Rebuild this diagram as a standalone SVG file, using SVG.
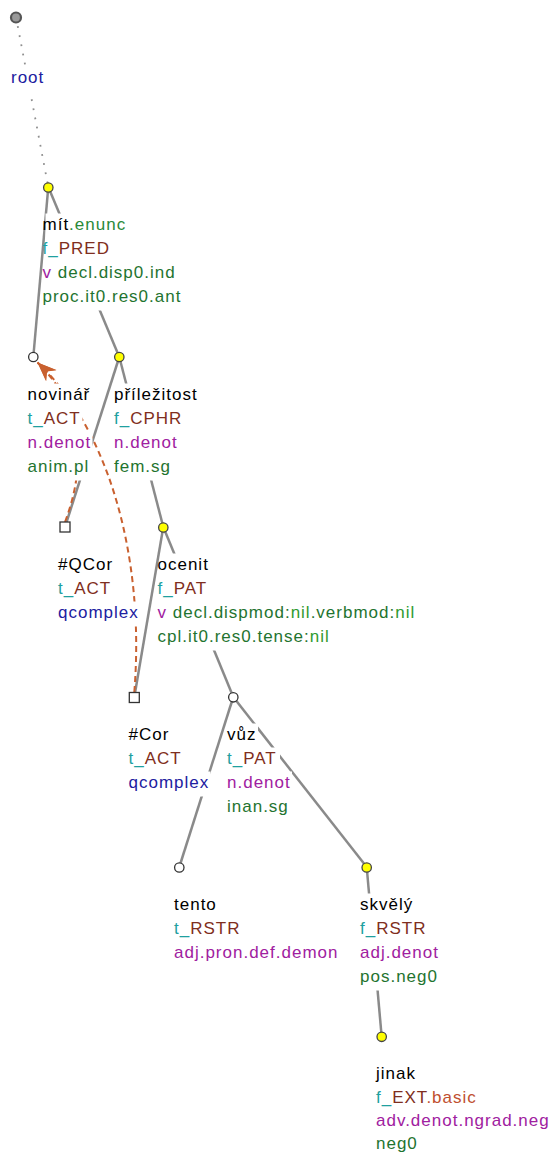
<svg xmlns="http://www.w3.org/2000/svg" width="555" height="1153" viewBox="0 0 555 1153">
<style>
text{font-family:"Liberation Sans",Arial,sans-serif;font-size:17px;letter-spacing:1px}
.bg{fill:#fff}
.e{stroke:#8a8a8a;stroke-width:2.5;fill:none}
.rt{stroke:#8f8f8f;stroke-width:1.8;fill:none;stroke-dasharray:1.8 7.5}
.cr{stroke:#c9602f;stroke-width:2;fill:none;stroke-dasharray:6 4;marker-end:url(#ah)}
.ny{fill:#ffff00;stroke:#444;stroke-width:1.3}
.nw{fill:#fff;stroke:#333;stroke-width:1.3}
.nr{fill:#999;stroke:#555;stroke-width:2.2}
.lem{fill:#000}
.sm{fill:#2a8a3a}
.tf{fill:#1fa0a0}
.fn{fill:#7f2e20}
.fs{fill:#c05030}
.pu{fill:#a020a0}
.nv{fill:#2020a0}
.gr{fill:#1f7430}
.nil{fill:#2f9a2f}
</style>
<defs>
<marker id="ah" markerUnits="userSpaceOnUse" viewBox="-20 -9 21 18" refX="0" refY="0" markerWidth="21" markerHeight="18" orient="auto">
<path d="M0,0 L-19,-7.5 L-13,0 L-19,7.5 Z" fill="#c9602f"/>
</marker>
</defs>
<g id="connectors">
<path class="rt" d="M16,17 L48.3,187"/>
<path class="e" d="M48.3,187 L33.3,357"/>
<path class="e" d="M48.3,187 L119.3,357"/>
<path class="e" d="M119.3,357 L65,527"/>
<path class="e" d="M119.3,357 L163.3,527"/>
<path class="e" d="M163.3,527 L134.3,697"/>
<path class="e" d="M163.3,527 L233.3,697"/>
<path class="e" d="M233.3,697 L179.3,867"/>
<path class="e" d="M233.3,697 L366.7,867"/>
<path class="e" d="M366.7,867 L381.7,1037"/>
<path class="cr" d="M134.3,692 C145,560 110,430 37.5,362.5"/>
<path class="cr" d="M65,522 C92,450 74,398 37.5,362.5"/>
</g>
<g id="n-root">
<rect class="bg" x="14" y="67" width="31" height="25"/>
<circle class="nr" cx="16" cy="17.5" r="5"/>
<text x="11" y="83.3"><tspan class="nv">root</tspan></text>
</g>
<g id="n-mit">
<rect class="bg" x="45.5" y="213.5" width="83" height="25"/>
<rect class="bg" x="45.5" y="237.5" width="66" height="25"/>
<rect class="bg" x="45.5" y="261.5" width="133" height="25"/>
<rect class="bg" x="45.5" y="285.5" width="137" height="25"/>
<circle class="ny" cx="48.3" cy="187.5" r="4.7"/>
<text x="42.5" y="229.5"><tspan class="lem">mít</tspan><tspan class="sm">.enunc</tspan></text>
<text x="42.5" y="253.5"><tspan class="tf">f_</tspan><tspan class="fn">PRED</tspan></text>
<text x="42.5" y="277.5"><tspan class="pu">v</tspan><tspan class="gr"> decl.disp0.ind</tspan></text>
<text x="42.5" y="301.5"><tspan class="gr">proc.it0.res0.ant</tspan></text>
</g>
<g id="n-novinar">
<rect class="bg" x="30.5" y="383.5" width="61" height="25"/>
<rect class="bg" x="30.5" y="407.5" width="52" height="25"/>
<rect class="bg" x="30.5" y="431.5" width="62" height="25"/>
<rect class="bg" x="30.5" y="455.5" width="60" height="25"/>
<circle class="nw" cx="33.3" cy="357" r="4.7"/>
<text x="27.5" y="399.5"><tspan class="lem">novinář</tspan></text>
<text x="27.5" y="423.5"><tspan class="tf">t_</tspan><tspan class="fn">ACT</tspan></text>
<text x="27.5" y="447.5"><tspan class="pu">n.denot</tspan></text>
<text x="27.5" y="471.5"><tspan class="gr">anim.pl</tspan></text>
</g>
<g id="n-prilezitost">
<rect class="bg" x="117" y="383.5" width="82" height="25"/>
<rect class="bg" x="117" y="407.5" width="67" height="25"/>
<rect class="bg" x="117" y="431.5" width="62" height="25"/>
<rect class="bg" x="117" y="455.5" width="55" height="25"/>
<circle class="ny" cx="119.3" cy="357" r="4.7"/>
<text x="114" y="399.5"><tspan class="lem">příležitost</tspan></text>
<text x="114" y="423.5"><tspan class="tf">f_</tspan><tspan class="fn">CPHR</tspan></text>
<text x="114" y="447.5"><tspan class="pu">n.denot</tspan></text>
<text x="114" y="471.5"><tspan class="gr">fem.sg</tspan></text>
</g>
<g id="n-qcor">
<rect class="bg" x="61" y="553.5" width="53" height="25"/>
<rect class="bg" x="61" y="577.5" width="52" height="25"/>
<rect class="bg" x="61" y="601.5" width="79" height="25"/>
<rect class="nw" x="60" y="522" width="10" height="10"/>
<text x="58" y="569.5"><tspan class="lem">#QCor</tspan></text>
<text x="58" y="593.5"><tspan class="tf">t_</tspan><tspan class="fn">ACT</tspan></text>
<text x="58" y="617.5"><tspan class="nv">qcomplex</tspan></text>
</g>
<g id="n-ocenit">
<rect class="bg" x="160.5" y="553.5" width="49" height="25"/>
<rect class="bg" x="160.5" y="577.5" width="50" height="25"/>
<rect class="bg" x="160.5" y="601.5" width="257" height="25"/>
<rect class="bg" x="160.5" y="625.5" width="175" height="25"/>
<circle class="ny" cx="163.3" cy="527.5" r="4.7"/>
<text x="157.5" y="569.5"><tspan class="lem">ocenit</tspan></text>
<text x="157.5" y="593.5"><tspan class="tf">f_</tspan><tspan class="fn">PAT</tspan></text>
<text x="157.5" y="617.5"><tspan class="pu">v</tspan><tspan class="gr"> decl.dispmod:</tspan><tspan class="nil">nil</tspan><tspan class="gr">.verbmod:</tspan><tspan class="nil">nil</tspan></text>
<text x="157.5" y="641.5"><tspan class="gr">cpl.it0.res0.tense:</tspan><tspan class="nil">nil</tspan></text>
</g>
<g id="n-cor">
<rect class="bg" x="131.5" y="723.5" width="39" height="25"/>
<rect class="bg" x="131.5" y="747.5" width="52" height="25"/>
<rect class="bg" x="131.5" y="771.5" width="79" height="25"/>
<rect class="nw" x="129.3" y="692.5" width="10" height="10"/>
<text x="128.5" y="739.5"><tspan class="lem">#Cor</tspan></text>
<text x="128.5" y="763.5"><tspan class="tf">t_</tspan><tspan class="fn">ACT</tspan></text>
<text x="128.5" y="787.5"><tspan class="nv">qcomplex</tspan></text>
</g>
<g id="n-vuz">
<rect class="bg" x="230" y="723.5" width="28" height="25"/>
<rect class="bg" x="230" y="747.5" width="50" height="25"/>
<rect class="bg" x="230" y="771.5" width="62" height="25"/>
<rect class="bg" x="230" y="795.5" width="60" height="25"/>
<circle class="nw" cx="233.3" cy="697.3" r="4.7"/>
<text x="227" y="739.5"><tspan class="lem">vůz</tspan></text>
<text x="227" y="763.5"><tspan class="tf">t_</tspan><tspan class="fn">PAT</tspan></text>
<text x="227" y="787.5"><tspan class="pu">n.denot</tspan></text>
<text x="227" y="811.5"><tspan class="gr">inan.sg</tspan></text>
</g>
<g id="n-tento">
<rect class="bg" x="177" y="893.5" width="41" height="25"/>
<rect class="bg" x="177" y="917.5" width="65" height="25"/>
<rect class="bg" x="177" y="941.5" width="163" height="25"/>
<circle class="nw" cx="179.3" cy="867.5" r="4.7"/>
<text x="174" y="909.5"><tspan class="lem">tento</tspan></text>
<text x="174" y="933.5"><tspan class="tf">t_</tspan><tspan class="fn">RSTR</tspan></text>
<text x="174" y="957.5"><tspan class="pu">adj.pron.def.demon</tspan></text>
</g>
<g id="n-skvely">
<rect class="bg" x="363" y="893.5" width="51" height="25"/>
<rect class="bg" x="363" y="917.5" width="65" height="25"/>
<rect class="bg" x="363" y="941.5" width="77" height="25"/>
<rect class="bg" x="363" y="965.5" width="77" height="25"/>
<circle class="ny" cx="366.7" cy="867.5" r="4.7"/>
<text x="360" y="909.5"><tspan class="lem">skvělý</tspan></text>
<text x="360" y="933.5"><tspan class="tf">f_</tspan><tspan class="fn">RSTR</tspan></text>
<text x="360" y="957.5"><tspan class="pu">adj.denot</tspan></text>
<text x="360" y="981.5"><tspan class="gr">pos.neg0</tspan></text>
</g>
<g id="n-jinak">
<rect class="bg" x="379" y="1063" width="38" height="25"/>
<rect class="bg" x="379" y="1087" width="101" height="25"/>
<rect class="bg" x="379" y="1111" width="172" height="25"/>
<rect class="bg" x="379" y="1135" width="40" height="18"/>
<circle class="ny" cx="381.7" cy="1036.8" r="4.7"/>
<text x="376" y="1079"><tspan class="lem">jinak</tspan></text>
<text x="376" y="1102.5"><tspan class="tf">f_</tspan><tspan class="fn">EXT</tspan><tspan class="fs">.basic</tspan></text>
<text x="376" y="1126"><tspan class="pu">adv.denot.ngrad.neg</tspan></text>
<text x="376" y="1149"><tspan class="gr">neg0</tspan></text>
</g>
</svg>
